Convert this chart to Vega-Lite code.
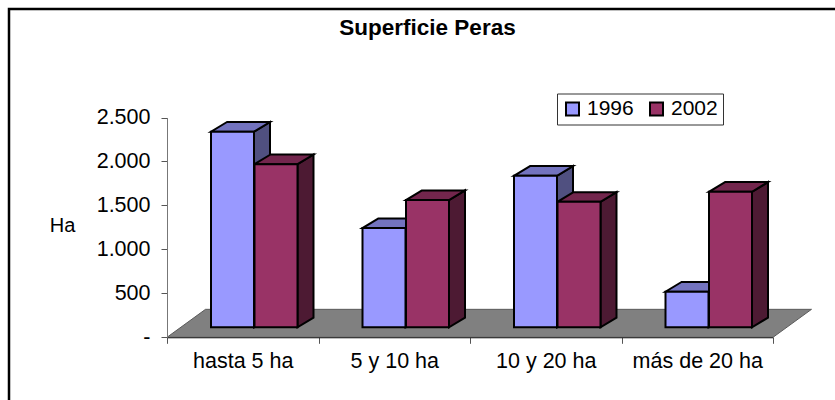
{
"$schema":"https://vega.github.io/schema/vega-lite/v6.json",
"width":840,"height":400,
"autosize":{"type":"none"},
"padding":{"left":9,"top":9,"right":0,"bottom":0},
"background":"white",
"config":{"view":{"stroke":"black","strokeWidth":2.5},"font":"Liberation Sans"},
"title":{"text":"Superficie Peras","font":"Liberation Sans","fontSize":22.5,"fontWeight":"bold","color":"black","anchor":"middle","offset":-30,"dx":-1.5,"frame":"group"},
"datasets":{"bars":[
{"cat":"hasta 5 ha","year":"1996","value":2225},
{"cat":"hasta 5 ha","year":"2002","value":1855},
{"cat":"5 y 10 ha","year":"1996","value":1128},
{"cat":"5 y 10 ha","year":"2002","value":1447},
{"cat":"10 y 20 ha","year":"1996","value":1723},
{"cat":"10 y 20 ha","year":"2002","value":1427},
{"cat":"más de 20 ha","year":"1996","value":405},
{"cat":"más de 20 ha","year":"2002","value":1541}
]},
"data":{"name":"bars"},
"transform":[
{"calculate":"indexof(['hasta 5 ha','5 y 10 ha','10 y 20 ha','más de 20 ha'],datum.cat)*151.5+44+(datum.year=='2002'?43.5:0)","as":"left"},
{"calculate":"datum.left+43","as":"right"},
{"calculate":"datum.value+114","as":"top"}
],
"layer":[
{"transform":[
 {"aggregate":[{"op":"count","as":"n"}]},
 {"calculate":"[0,1]","as":"t"},{"flatten":["t"]},
 {"calculate":"datum.t*38.5","as":"x1"},{"calculate":"606+datum.t*38.5","as":"x2"},{"calculate":"datum.t*318","as":"yy"}],
 "mark":{"type":"area","orient":"horizontal","fill":"#808080","stroke":"#5a5a5a","strokeWidth":1},
 "encoding":{
  "x":{"field":"x1","type":"quantitative","scale":{"domain":[0,606],"range":[158,764]},"axis":null},
  "x2":{"field":"x2"},
  "y":{"field":"yy","type":"quantitative","scale":{"domain":[0,2500],"range":[328.3,108.5]},
   "axis":{"orient":"left","offset":-158,"values":[0,500,1000,1500,2000,2500],"grid":false,"zindex":1,
    "labelExpr":"datum.value==0?'-':replace(format(datum.value,','),',','.')",
    "labelFont":"Liberation Sans","labelFontSize":21.5,"labelColor":"black","labelPadding":11,
    "tickSize":6,"tickColor":"#555","domainColor":"#777","domainWidth":1,"tickWidth":1,
    "title":"Ha","titleAngle":0,"titleFont":"Liberation Sans","titleFontSize":20,"titleFontWeight":"normal","titleColor":"black",
    "titleX":-105,"titleY":216,"titleAlign":"center","titleBaseline":"middle"}}
 }},
{"mark":{"type":"rule","opacity":0},
 "encoding":{"x":{"field":"cat","type":"nominal","sort":["hasta 5 ha","5 y 10 ha","10 y 20 ha","más de 20 ha"],
   "scale":{"type":"band","paddingInner":0,"paddingOuter":0,"range":[158,764]},
   "axis":{"orient":"bottom","offset":-71.7,"title":null,"labelAngle":0,"tickBand":"extent","zindex":1,
    "labelFont":"Liberation Sans","labelFontSize":21.5,"labelColor":"black","labelPadding":7,
    "tickSize":6,"tickColor":"#555","domainColor":"#222","domainWidth":1,"tickWidth":1}}}},
{"transform":[{"calculate":"[0,1]","as":"t"},{"flatten":["t"]},
 {"calculate":"datum.right+datum.t*16","as":"sx"},{"calculate":"datum.top+datum.t*110","as":"sy"},{"calculate":"114+datum.t*110","as":"sy2"}],
 "mark":{"type":"area","stroke":"black","strokeWidth":2,"strokeJoin":"miter"},
 "encoding":{
  "x":{"field":"sx","type":"quantitative","scale":{"domain":[0,606],"range":[158,764]},"axis":null},
  "y":{"field":"sy","type":"quantitative","scale":{"domain":[0,2500],"range":[328.3,108.5]}},
  "y2":{"field":"sy2"},
  "detail":{"field":"cat"},
  "fill":{"field":"year","type":"nominal","scale":{"domain":["1996","2002"],"range":["#505080","#4d1a33"]},"legend":null}
 }},
{"transform":[{"calculate":"[0,1]","as":"t"},{"flatten":["t"]},
 {"calculate":"datum.left+datum.t*16","as":"tx"},{"calculate":"datum.right+datum.t*16","as":"tx2"},{"calculate":"datum.top+datum.t*110","as":"ty"}],
 "mark":{"type":"area","orient":"horizontal","stroke":"black","strokeWidth":2,"strokeJoin":"miter"},
 "encoding":{
  "x":{"field":"tx","type":"quantitative","scale":{"domain":[0,606],"range":[158,764]},"axis":null},
  "x2":{"field":"tx2"},
  "y":{"field":"ty","type":"quantitative","scale":{"domain":[0,2500],"range":[328.3,108.5]}},
  "detail":{"field":"cat"},
  "fill":{"field":"year","type":"nominal","scale":{"domain":["1996","2002"],"range":["#7373bf","#73264d"]},"legend":null}
 }},
{"mark":{"type":"rect","stroke":"black","strokeWidth":2},
 "encoding":{
  "x":{"field":"left","type":"quantitative","scale":{"domain":[0,606],"range":[158,764]},"axis":null},
  "x2":{"field":"right"},
  "y":{"field":"top","type":"quantitative","scale":{"domain":[0,2500],"range":[328.3,108.5]}},
  "y2":{"datum":114},
  "fill":{"field":"year","type":"nominal","scale":{"domain":["1996","2002"],"range":["#9999ff","#993366"]},
   "legend":{"orient":"none","legendX":548,"legendY":84.5,"direction":"horizontal","columns":2,"title":null,
    "symbolType":"square","symbolSize":169,"symbolStrokeColor":"black","symbolStrokeWidth":2,
    "labelFont":"Liberation Sans","labelFontSize":21,"labelColor":"black","labelOffset":4,"columnPadding":12,
    "strokeColor":"#333","fillColor":"white","padding":5}}
 }}
],
"resolve":{"scale":{"x":"independent","fill":"independent"}}
}
